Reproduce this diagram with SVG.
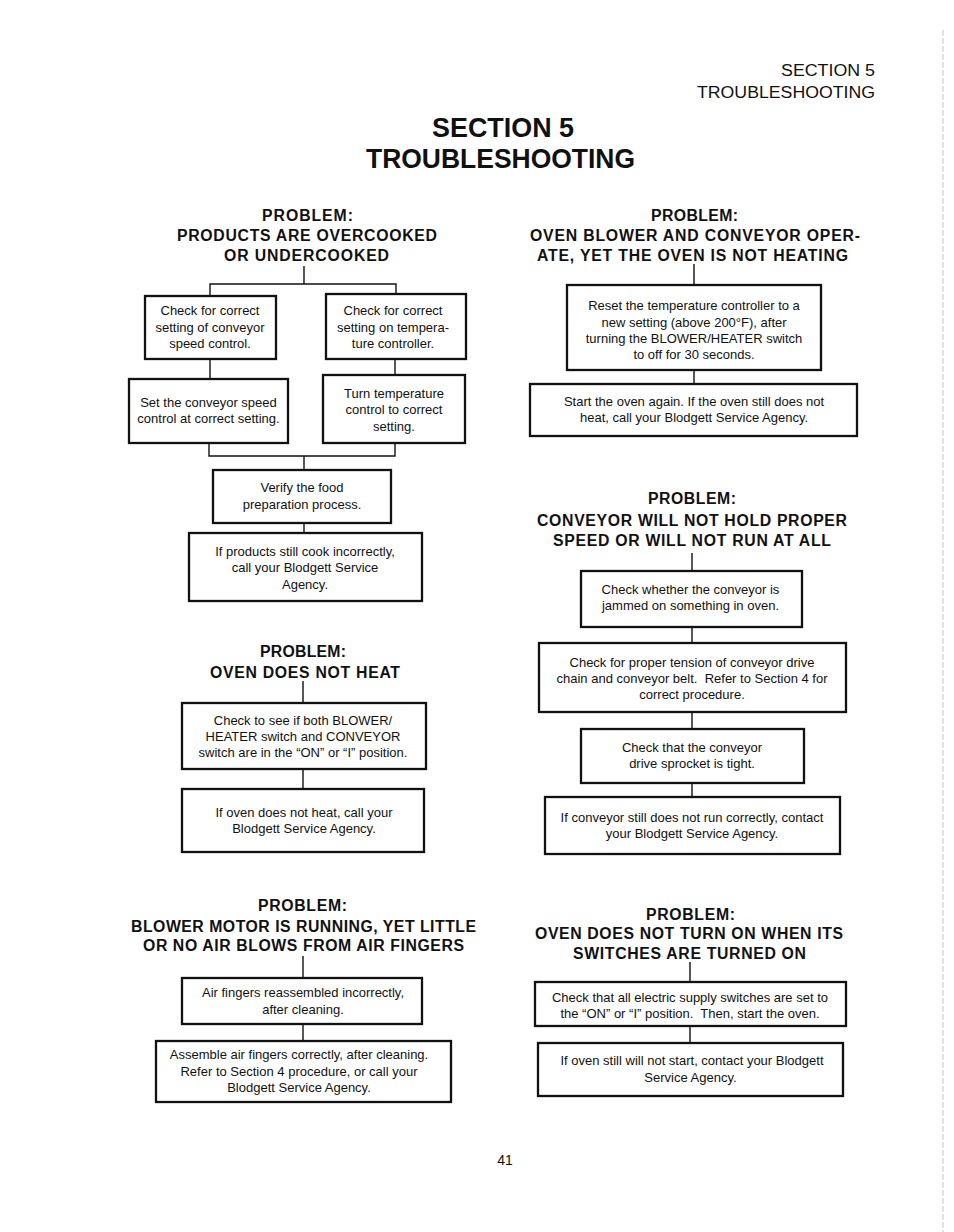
<svg xmlns="http://www.w3.org/2000/svg" width="954" height="1232" viewBox="0 0 954 1232">
<style>
text{font-family:"Liberation Sans",Arial,sans-serif;fill:#111;}
.hd{font-size:16px;}
.tt{font-size:27px;font-weight:bold;}
.ph{font-size:15.8px;font-weight:bold;}
.bx{font-size:13px;}
.box rect{fill:#fff;stroke:#111;stroke-width:2.3;}
#connectors line, #connectors polyline{stroke:#111;stroke-width:1.4;fill:none;}
</style>
<rect width="954" height="1232" fill="#fff"/>
<line x1="943" y1="30" x2="943" y2="1232" stroke="#c8c8c8" stroke-width="1" stroke-dasharray="6 2"/>

<g id="header" text-anchor="end">
<text class="hd" x="875" y="76" textLength="94" lengthAdjust="spacingAndGlyphs">SECTION 5</text>
<text class="hd" x="875" y="98" textLength="178" lengthAdjust="spacingAndGlyphs">TROUBLESHOOTING</text>
</g>
<g id="title" text-anchor="middle">
<text class="tt" x="503" y="137" textLength="142" lengthAdjust="spacingAndGlyphs">SECTION 5</text>
<text class="tt" x="500.5" y="168" textLength="269" lengthAdjust="spacingAndGlyphs">TROUBLESHOOTING</text>
</g>

<g id="headings" text-anchor="middle">
<g id="p1-head">
<text class="ph" x="307.5" y="221" textLength="91">PROBLEM:</text>
<text class="ph" x="307" y="241" textLength="260">PRODUCTS ARE OVERCOOKED</text>
<text class="ph" x="306.5" y="261" textLength="165">OR UNDERCOOKED</text>
</g>
<g id="p2-head">
<text class="ph" x="303" y="656.5" textLength="86">PROBLEM:</text>
<text class="ph" x="305" y="677.5" textLength="190">OVEN DOES NOT HEAT</text>
</g>
<g id="p3-head">
<text class="ph" x="302.5" y="910.5" textLength="89">PROBLEM:</text>
<text class="ph" x="303.5" y="931.5" textLength="345">BLOWER MOTOR IS RUNNING, YET LITTLE</text>
<text class="ph" x="303.5" y="950.5" textLength="321">OR NO AIR BLOWS FROM AIR FINGERS</text>
</g>
<g id="p4-head">
<text class="ph" x="694.5" y="220.5" textLength="87">PROBLEM:</text>
<text class="ph" x="695" y="240.5" textLength="330">OVEN BLOWER AND CONVEYOR OPER-</text>
<text class="ph" x="692.5" y="260.5" textLength="311">ATE, YET THE OVEN IS NOT HEATING</text>
</g>
<g id="p5-head">
<text class="ph" x="692" y="503.5" textLength="88">PROBLEM:</text>
<text class="ph" x="692" y="525.5" textLength="310">CONVEYOR WILL NOT HOLD PROPER</text>
<text class="ph" x="692" y="545.5" textLength="278">SPEED OR WILL NOT RUN AT ALL</text>
</g>
<g id="p6-head">
<text class="ph" x="690.5" y="919.5" textLength="89">PROBLEM:</text>
<text class="ph" x="689" y="938.5" textLength="308">OVEN DOES NOT TURN ON WHEN ITS</text>
<text class="ph" x="689.5" y="958.5" textLength="233">SWITCHES ARE TURNED ON</text>
</g>
</g>

<g id="connectors">
<line x1="304" y1="266" x2="304" y2="284"/>
<polyline points="210,296 210,284 396,284 396,294"/>
<line x1="210" y1="359" x2="210" y2="379"/>
<line x1="395" y1="359" x2="395" y2="375"/>
<polyline points="209,443 209,456 395,456 395,443"/>
<line x1="304" y1="456" x2="304" y2="470"/>
<line x1="304" y1="523" x2="304" y2="533"/>
<line x1="303" y1="681" x2="303" y2="703"/>
<line x1="303" y1="769" x2="303" y2="789"/>
<line x1="303" y1="956" x2="303" y2="978"/>
<line x1="303" y1="1024" x2="303" y2="1041"/>
<line x1="694" y1="264" x2="694" y2="285"/>
<line x1="694" y1="370" x2="694" y2="384"/>
<line x1="692" y1="553" x2="692" y2="571"/>
<line x1="692" y1="627" x2="692" y2="643"/>
<line x1="692" y1="712" x2="692" y2="729"/>
<line x1="692" y1="783" x2="692" y2="797"/>
<line x1="690" y1="962" x2="690" y2="982"/>
<line x1="690" y1="1026" x2="690" y2="1043"/>
</g>

<g class="box" id="nA"><rect x="145" y="296" width="131" height="63"/>
<text class="bx" text-anchor="middle" x="210" y="315">Check for correct</text>
<text class="bx" text-anchor="middle" x="210" y="331.5">setting of conveyor</text>
<text class="bx" text-anchor="middle" x="210" y="347.5">speed control.</text></g>

<g class="box" id="nB"><rect x="326" y="294" width="140" height="65"/>
<text class="bx" text-anchor="middle" x="393" y="314.5">Check for correct</text>
<text class="bx" text-anchor="middle" x="393" y="331.5">setting on tempera-</text>
<text class="bx" text-anchor="middle" x="393" y="347.5">ture controller.</text></g>

<g class="box" id="nC"><rect x="129" y="379" width="159" height="64"/>
<text class="bx" text-anchor="middle" x="208.5" y="406.5">Set the conveyor speed</text>
<text class="bx" text-anchor="middle" x="208.5" y="422.5">control at correct setting.</text></g>

<g class="box" id="nD"><rect x="323" y="375" width="142" height="68"/>
<text class="bx" text-anchor="middle" x="394" y="397.5">Turn temperature</text>
<text class="bx" text-anchor="middle" x="394" y="413.5">control to correct</text>
<text class="bx" text-anchor="middle" x="394" y="430.5">setting.</text></g>

<g class="box" id="nE"><rect x="213" y="470" width="178" height="53"/>
<text class="bx" text-anchor="middle" x="302" y="491.5">Verify the food</text>
<text class="bx" text-anchor="middle" x="302" y="508.5">preparation process.</text></g>

<g class="box" id="nF"><rect x="189" y="533" width="233" height="68"/>
<text class="bx" text-anchor="middle" x="305" y="555.5">If products still cook incorrectly,</text>
<text class="bx" text-anchor="middle" x="305" y="571.5">call your Blodgett Service</text>
<text class="bx" text-anchor="middle" x="305" y="588.5">Agency.</text></g>

<g class="box" id="nG"><rect x="182" y="703" width="244" height="66"/>
<text class="bx" text-anchor="middle" x="303" y="724.5">Check to see if both BLOWER/</text>
<text class="bx" text-anchor="middle" x="303" y="740.5">HEATER switch and CONVEYOR</text>
<text class="bx" text-anchor="middle" x="303" y="756.5">switch are in the “ON” or “I” position.</text></g>

<g class="box" id="nH"><rect x="182" y="789" width="242" height="63"/>
<text class="bx" text-anchor="middle" x="304" y="816.5">If oven does not heat, call your</text>
<text class="bx" text-anchor="middle" x="304" y="832.5">Blodgett Service Agency.</text></g>

<g class="box" id="nI"><rect x="182" y="978" width="240" height="46"/>
<text class="bx" text-anchor="middle" x="303" y="996.5">Air fingers reassembled incorrectly,</text>
<text class="bx" text-anchor="middle" x="303" y="1013.5">after cleaning.</text></g>

<g class="box" id="nJ"><rect x="156" y="1041" width="295" height="61"/>
<text class="bx" text-anchor="middle" x="299" y="1058.5">Assemble air fingers correctly, after cleaning.</text>
<text class="bx" text-anchor="middle" x="299" y="1075.5">Refer to Section 4 procedure, or call your</text>
<text class="bx" text-anchor="middle" x="299" y="1091.5">Blodgett Service Agency.</text></g>

<g class="box" id="nK"><rect x="567" y="285" width="254" height="85"/>
<text class="bx" text-anchor="middle" x="694" y="309.5">Reset the temperature controller to a</text>
<text class="bx" text-anchor="middle" x="694" y="326.5">new setting (above 200°F), after</text>
<text class="bx" text-anchor="middle" x="694" y="342.5">turning the BLOWER/HEATER switch</text>
<text class="bx" text-anchor="middle" x="694" y="358.5">to off for 30 seconds.</text></g>

<g class="box" id="nL"><rect x="530" y="384" width="327" height="52"/>
<text class="bx" text-anchor="middle" x="694" y="405.5">Start the oven again. If the oven still does not</text>
<text class="bx" text-anchor="middle" x="694" y="421.5">heat, call your Blodgett Service Agency.</text></g>

<g class="box" id="nM"><rect x="581" y="571" width="221" height="56"/>
<text class="bx" text-anchor="middle" x="690.5" y="593.5">Check whether the conveyor is</text>
<text class="bx" text-anchor="middle" x="690.5" y="609.5">jammed on something in oven.</text></g>

<g class="box" id="nN"><rect x="539" y="643" width="307" height="69"/>
<text class="bx" text-anchor="middle" x="692" y="666.5">Check for proper tension of conveyor drive</text>
<text class="bx" text-anchor="middle" x="692" y="682.5">chain and conveyor belt.&#160; Refer to Section 4 for</text>
<text class="bx" text-anchor="middle" x="692" y="698.5">correct procedure.</text></g>

<g class="box" id="nO"><rect x="581" y="729" width="223" height="54"/>
<text class="bx" text-anchor="middle" x="692" y="751.5">Check that the conveyor</text>
<text class="bx" text-anchor="middle" x="692" y="767.5">drive sprocket is tight.</text></g>

<g class="box" id="nP"><rect x="545" y="797" width="295" height="57"/>
<text class="bx" text-anchor="middle" x="692" y="821.5">If conveyor still does not run correctly, contact</text>
<text class="bx" text-anchor="middle" x="692" y="837.5">your Blodgett Service Agency.</text></g>

<g class="box" id="nQ"><rect x="535" y="982" width="311" height="44"/>
<text class="bx" text-anchor="middle" x="690" y="1001.5">Check that all electric supply switches are set to</text>
<text class="bx" text-anchor="middle" x="690" y="1017.5">the “ON” or “I” position.&#160; Then, start the oven.</text></g>

<g class="box" id="nR"><rect x="538" y="1043" width="305" height="53"/>
<text class="bx" text-anchor="middle" x="692" y="1064.5">If oven still will not start, contact your Blodgett</text>
<text class="bx" text-anchor="middle" x="690.5" y="1081.5">Service Agency.</text></g>

<g id="footer"><text x="505" y="1165" text-anchor="middle" style="font-size:14px">41</text></g>
</svg>
